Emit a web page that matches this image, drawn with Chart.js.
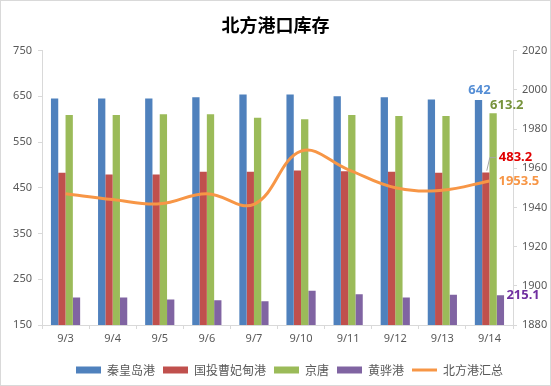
<!DOCTYPE html>
<html>
<head>
<meta charset="utf-8">
<script src="https://cdn.jsdelivr.net/npm/chart.js@4"></script>
<style>
  body { margin: 0; background: #fff; }
  #wrap { width: 551px; height: 386px; position: relative; }
</style>
</head>
<body>
<div id="wrap"><canvas id="myChart" width="551" height="386"></canvas></div>
<script>
// data
const dates = ['9/3', '9/4', '9/5', '9/6', '9/7', '9/10', '9/11', '9/12', '9/13', '9/14'];
const qinhuangdao = [645, 645, 645, 648, 654, 654, 650, 648, 643, 642];
const caofeidian = [483, 479, 479, 485, 485, 488, 486, 485, 483, 483.2];
const jingtang = [609, 609, 611, 611, 603, 600, 609, 607, 607, 613.2];
const huanghua = [210, 210, 206, 204, 202, 225, 217, 210, 216, 215.1];
const total = [1947, 1944, 1941.8, 1947, 1941.6, 1968.7, 1959.3, 1950, 1948.8, 1953.5];

const leftTicks = { min: 150, max: 750, step: 100 };
const rightTicks = { min: 1880, max: 2020, step: 20 };

const tickFont = { family: 'Noto Sans', size: 11 };
const cjk = 'Noto Sans CJK SC';

// frame + white background, legend nudged right like the original
const framePlugin = {
  id: 'frame',
  afterLayout(chart) {
    chart.legend.left += 14;
    chart.legend.right += 14;
  },
  beforeDraw(chart) {
    const c = chart.ctx;
    c.save();
    c.fillStyle = '#fff';
    c.fillRect(0, 0, chart.width, chart.height);
    c.strokeStyle = '#d9d9d9';
    c.lineWidth = 1;
    c.strokeRect(0.5, 0.5, chart.width - 1, chart.height - 1);
    c.restore();
  }
};

// value labels on the last day only
const lastLabels = {
  id: 'lastLabels',
  afterDatasetsDraw(chart) {
    const c = chart.ctx;
    c.save();
    c.font = 'bold 13px "Noto Sans"';
    c.textBaseline = 'middle';
    const last = dates.length - 1;
    const el = (i) => chart.getDatasetMeta(i).data[last];
    const ds = chart.data.datasets;

    let p = el(0);
    c.fillStyle = '#558ED5';
    c.textAlign = 'center';
    c.fillText(ds[0].data[last], p.x + 1, p.y - 10);

    p = el(2);
    c.fillStyle = '#77933C';
    c.textAlign = 'left';
    c.fillText(ds[2].data[last], p.x - 3, p.y - 8);

    p = el(1);
    c.strokeStyle = '#a6a6a6';
    c.lineWidth = 1;
    c.beginPath();
    c.moveTo(p.x + 1, p.y - 2);
    c.lineTo(p.x + 4, p.y - 15);
    c.lineTo(p.x + 10, p.y - 15);
    c.stroke();
    c.fillStyle = '#E00000';
    c.fillText(ds[1].data[last], p.x + 13, p.y - 15);

    p = el(4);
    c.fillStyle = '#F79646';
    c.fillText(ds[4].data[last], p.x + 9, p.y);

    p = el(3);
    c.fillStyle = '#7030A0';
    c.fillText(ds[3].data[last], p.x + 6, p.y);
    c.restore();
  }
};

const ctx = document.getElementById('myChart');

var myChart = new Chart(ctx, {
  type: 'bar',
  data: {
    labels: dates,
    datasets: [
      { label: '秦皇岛港', data: qinhuangdao, backgroundColor: '#4F81BD', pointStyle: 'rect', yAxisID: 'y' },
      { label: '国投曹妃甸港', data: caofeidian, backgroundColor: '#C0504D', pointStyle: 'rect', yAxisID: 'y' },
      { label: '京唐', data: jingtang, backgroundColor: '#9BBB59', pointStyle: 'rect', yAxisID: 'y' },
      { label: '黄骅港', data: huanghua, backgroundColor: '#8064A2', pointStyle: 'rect', yAxisID: 'y' },
      {
        type: 'line', label: '北方港汇总', data: total, yAxisID: 'y1',
        borderColor: '#F79646', backgroundColor: '#F79646', borderWidth: 3,
        pointRadius: 0, pointStyle: 'line', tension: 0.4, order: -1
      }
    ]
  },
  options: {
    responsive: false,
    animation: false,
    categoryPercentage: 0.62,
    barPercentage: 1,
    layout: { padding: { left: 0, right: 0, top: 0, bottom: 0 } },
    plugins: {
      tooltip: { enabled: false },
      title: {
        display: true,
        text: '北方港口库存',
        color: '#000',
        font: { family: cjk, size: 18, weight: 'bold' },
        padding: { top: 14, bottom: 15 }
      },
      legend: {
        position: 'bottom',
        labels: {
          usePointStyle: true,
          pointStyleWidth: 25,
          boxHeight: 7,
          color: '#595959',
          font: { family: cjk, size: 12 },
          padding: 8,
          sort: (a, b) => a.datasetIndex - b.datasetIndex
        }
      }
    },
    scales: {
      x: {
        offset: true,
        grid: { offset: true, drawOnChartArea: false, tickLength: 4, color: '#d9d9d9' },
        border: { color: '#d9d9d9' },
        ticks: { color: '#595959', font: tickFont, padding: 3, maxRotation: 0 },
        afterFit: (s) => { s.height = 31; }
      },
      y: {
        position: 'left',
        min: leftTicks.min, max: leftTicks.max,
        grid: { drawOnChartArea: false, tickLength: 4, color: '#d9d9d9' },
        border: { color: '#d9d9d9' },
        ticks: { stepSize: leftTicks.step, color: '#595959', font: tickFont, padding: 6 },
        afterFit: (s) => { s.width = 42; }
      },
      y1: {
        position: 'right',
        min: rightTicks.min, max: rightTicks.max,
        grid: { drawOnChartArea: false, tickLength: 4, color: '#d9d9d9' },
        border: { color: '#d9d9d9' },
        ticks: {
          stepSize: rightTicks.step, color: '#595959', font: tickFont, padding: 5,
          callback: (v) => String(v)
        },
        afterFit: (s) => { s.width = 38; }
      }
    }
  },
  plugins: [framePlugin, lastLabels]
});
</script>
</body>
</html>
